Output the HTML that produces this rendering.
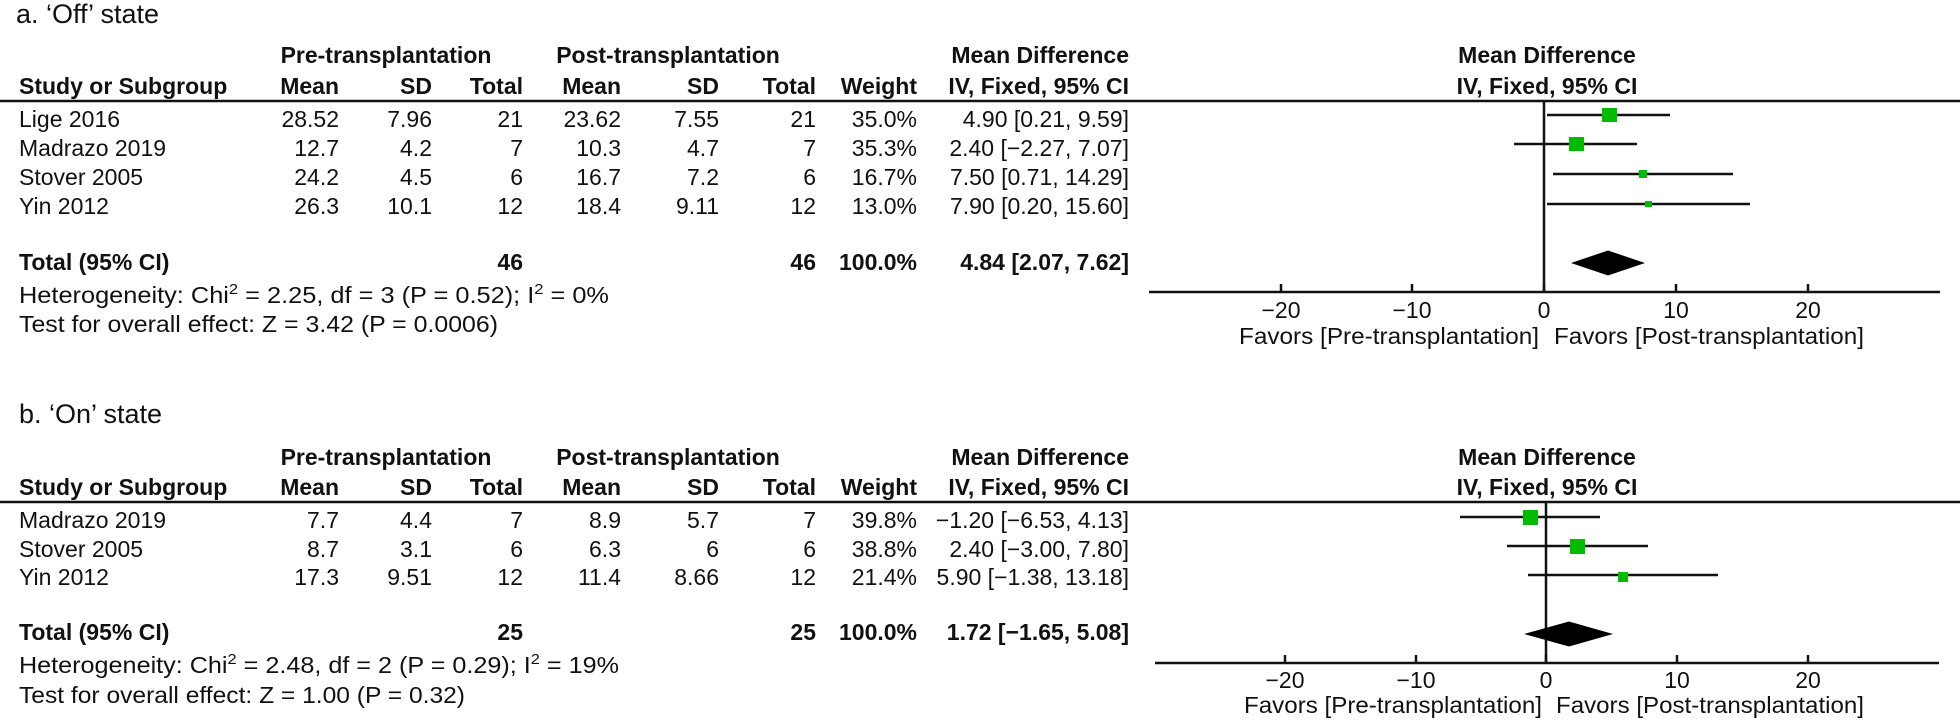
<!DOCTYPE html>
<html><head><meta charset="utf-8"><style>
html,body{margin:0;padding:0;background:#fff;}
svg{display:block;}
text{font-family:"Liberation Sans",sans-serif;font-size:23px;fill:#111;}
.b{font-weight:bold;}
.t{font-size:27px;}
.e{text-anchor:end;}
.m{text-anchor:middle;}
</style></head><body>
<svg width="1960" height="720" viewBox="0 0 1960 720" xmlns="http://www.w3.org/2000/svg">
<!-- Panel a -->
<text x="16" y="23" class="t">a. ‘Off’ state</text>
<text x="386" y="63" class="b m">Pre-transplantation</text>
<text x="668" y="63" class="b m">Post-transplantation</text>
<text x="1129" y="63" class="b e">Mean Difference</text>
<text x="1547" y="63" class="b m">Mean Difference</text>
<text x="19" y="94" class="b">Study or Subgroup</text>
<text x="339" y="94" class="b e">Mean</text>
<text x="432" y="94" class="b e">SD</text>
<text x="523" y="94" class="b e">Total</text>
<text x="621" y="94" class="b e">Mean</text>
<text x="719" y="94" class="b e">SD</text>
<text x="816" y="94" class="b e">Total</text>
<text x="917" y="94" class="b e">Weight</text>
<text x="1129" y="94" class="b e">IV, Fixed, 95% CI</text>
<text x="1547" y="94" class="b m">IV, Fixed, 95% CI</text>
<line x1="0" y1="101" x2="1960" y2="101" stroke="#111" stroke-width="2.5"/>

<g>
<text x="19" y="127">Lige 2016</text><text x="339" y="127" class="e">28.52</text><text x="432" y="127" class="e">7.96</text><text x="523" y="127" class="e">21</text><text x="621" y="127" class="e">23.62</text><text x="719" y="127" class="e">7.55</text><text x="816" y="127" class="e">21</text><text x="917" y="127" class="e">35.0%</text><text x="1129" y="127" class="e">4.90 [0.21, 9.59]</text>
<text x="19" y="156">Madrazo 2019</text><text x="339" y="156" class="e">12.7</text><text x="432" y="156" class="e">4.2</text><text x="523" y="156" class="e">7</text><text x="621" y="156" class="e">10.3</text><text x="719" y="156" class="e">4.7</text><text x="816" y="156" class="e">7</text><text x="917" y="156" class="e">35.3%</text><text x="1129" y="156" class="e">2.40 [−2.27, 7.07]</text>
<text x="19" y="185">Stover 2005</text><text x="339" y="185" class="e">24.2</text><text x="432" y="185" class="e">4.5</text><text x="523" y="185" class="e">6</text><text x="621" y="185" class="e">16.7</text><text x="719" y="185" class="e">7.2</text><text x="816" y="185" class="e">6</text><text x="917" y="185" class="e">16.7%</text><text x="1129" y="185" class="e">7.50 [0.71, 14.29]</text>
<text x="19" y="214">Yin 2012</text><text x="339" y="214" class="e">26.3</text><text x="432" y="214" class="e">10.1</text><text x="523" y="214" class="e">12</text><text x="621" y="214" class="e">18.4</text><text x="719" y="214" class="e">9.11</text><text x="816" y="214" class="e">12</text><text x="917" y="214" class="e">13.0%</text><text x="1129" y="214" class="e">7.90 [0.20, 15.60]</text>
<text x="19" y="270" class="b">Total (95% CI)</text><text x="523" y="270" class="b e">46</text><text x="816" y="270" class="b e">46</text><text x="917" y="270" class="b e">100.0%</text><text x="1129" y="270" class="b e">4.84 [2.07, 7.62]</text>
<text x="19" y="303" textLength="590" lengthAdjust="spacingAndGlyphs">Heterogeneity: Chi<tspan font-size="15" dy="-9">2</tspan><tspan dy="9"> = 2.25, df = 3 (P = 0.52); I</tspan><tspan font-size="15" dy="-9">2</tspan><tspan dy="9"> = 0%</tspan></text>
<text x="19" y="332" textLength="479" lengthAdjust="spacingAndGlyphs">Test for overall effect: Z = 3.42 (P = 0.0006)</text>
</g>

<g stroke="#111" stroke-width="2.5">
<line x1="1544" y1="101" x2="1544" y2="292"/>
<line x1="1547" y1="115" x2="1670" y2="115"/>
<line x1="1514" y1="144" x2="1637" y2="144"/>
<line x1="1553" y1="174" x2="1733" y2="174"/>
<line x1="1547" y1="204" x2="1750" y2="204"/>
<line x1="1149" y1="292" x2="1940" y2="292"/>
<line x1="1281" y1="284" x2="1281" y2="292"/>
<line x1="1412" y1="284" x2="1412" y2="292"/>
<line x1="1544" y1="284" x2="1544" y2="292"/>
<line x1="1676" y1="284" x2="1676" y2="292"/>
<line x1="1808" y1="284" x2="1808" y2="292"/>
</g>
<g fill="#00bb00">
<rect x="1602" y="108" width="15" height="14"/>
<rect x="1569" y="137" width="15" height="14"/>
<rect x="1639" y="170" width="8" height="8"/>
<rect x="1645" y="201" width="7" height="6"/>
</g>
<polygon points="1571,263 1608,250.5 1645,263 1608,275.5" fill="#000"/>
<g>
<text x="1281" y="318" class="m">−20</text><text x="1412" y="318" class="m">−10</text><text x="1544" y="318" class="m">0</text><text x="1676" y="318" class="m">10</text><text x="1808" y="318" class="m">20</text>
<text x="1239" y="344" textLength="300" lengthAdjust="spacingAndGlyphs">Favors [Pre-transplantation]</text>
<text x="1554" y="344" textLength="310" lengthAdjust="spacingAndGlyphs">Favors [Post-transplantation]</text>
</g>

<!-- Panel b -->
<text x="19" y="423" class="t">b. ‘On’ state</text>
<text x="386" y="465" class="b m">Pre-transplantation</text>
<text x="668" y="465" class="b m">Post-transplantation</text>
<text x="1129" y="465" class="b e">Mean Difference</text>
<text x="1547" y="465" class="b m">Mean Difference</text>
<text x="19" y="495" class="b">Study or Subgroup</text>
<text x="339" y="495" class="b e">Mean</text>
<text x="432" y="495" class="b e">SD</text>
<text x="523" y="495" class="b e">Total</text>
<text x="621" y="495" class="b e">Mean</text>
<text x="719" y="495" class="b e">SD</text>
<text x="816" y="495" class="b e">Total</text>
<text x="917" y="495" class="b e">Weight</text>
<text x="1129" y="495" class="b e">IV, Fixed, 95% CI</text>
<text x="1547" y="495" class="b m">IV, Fixed, 95% CI</text>
<line x1="0" y1="502" x2="1960" y2="502" stroke="#111" stroke-width="2.5"/>

<g>
<text x="19" y="528">Madrazo 2019</text><text x="339" y="528" class="e">7.7</text><text x="432" y="528" class="e">4.4</text><text x="523" y="528" class="e">7</text><text x="621" y="528" class="e">8.9</text><text x="719" y="528" class="e">5.7</text><text x="816" y="528" class="e">7</text><text x="917" y="528" class="e">39.8%</text><text x="1129" y="528" class="e">−1.20 [−6.53, 4.13]</text>
<text x="19" y="557">Stover 2005</text><text x="339" y="557" class="e">8.7</text><text x="432" y="557" class="e">3.1</text><text x="523" y="557" class="e">6</text><text x="621" y="557" class="e">6.3</text><text x="719" y="557" class="e">6</text><text x="816" y="557" class="e">6</text><text x="917" y="557" class="e">38.8%</text><text x="1129" y="557" class="e">2.40 [−3.00, 7.80]</text>
<text x="19" y="585">Yin 2012</text><text x="339" y="585" class="e">17.3</text><text x="432" y="585" class="e">9.51</text><text x="523" y="585" class="e">12</text><text x="621" y="585" class="e">11.4</text><text x="719" y="585" class="e">8.66</text><text x="816" y="585" class="e">12</text><text x="917" y="585" class="e">21.4%</text><text x="1129" y="585" class="e">5.90 [−1.38, 13.18]</text>
<text x="19" y="640" class="b">Total (95% CI)</text><text x="523" y="640" class="b e">25</text><text x="816" y="640" class="b e">25</text><text x="917" y="640" class="b e">100.0%</text><text x="1129" y="640" class="b e">1.72 [−1.65, 5.08]</text>
<text x="19" y="673" textLength="600" lengthAdjust="spacingAndGlyphs">Heterogeneity: Chi<tspan font-size="15" dy="-9">2</tspan><tspan dy="9"> = 2.48, df = 2 (P = 0.29); I</tspan><tspan font-size="15" dy="-9">2</tspan><tspan dy="9"> = 19%</tspan></text>
<text x="19" y="703" textLength="446" lengthAdjust="spacingAndGlyphs">Test for overall effect: Z = 1.00 (P = 0.32)</text>
</g>

<g stroke="#111" stroke-width="2.5">
<line x1="1546" y1="502" x2="1546" y2="663"/>
<line x1="1460" y1="517" x2="1600" y2="517"/>
<line x1="1507" y1="546" x2="1648" y2="546"/>
<line x1="1528" y1="575" x2="1718" y2="575"/>
<line x1="1155" y1="663" x2="1939" y2="663"/>
<line x1="1285" y1="655" x2="1285" y2="663"/>
<line x1="1416" y1="655" x2="1416" y2="663"/>
<line x1="1546" y1="655" x2="1546" y2="663"/>
<line x1="1677" y1="655" x2="1677" y2="663"/>
<line x1="1808" y1="655" x2="1808" y2="663"/>
</g>
<g fill="#00bb00">
<rect x="1523" y="510" width="15" height="15"/>
<rect x="1570" y="539" width="15" height="15"/>
<rect x="1618" y="572" width="10" height="10"/>
</g>
<polygon points="1524,634 1569,621.5 1613,634 1569,646.5" fill="#000"/>
<g>
<text x="1285" y="688" class="m">−20</text><text x="1416" y="688" class="m">−10</text><text x="1546" y="688" class="m">0</text><text x="1677" y="688" class="m">10</text><text x="1808" y="688" class="m">20</text>
<text x="1244" y="713" textLength="298" lengthAdjust="spacingAndGlyphs">Favors [Pre-transplantation]</text>
<text x="1556" y="713" textLength="308" lengthAdjust="spacingAndGlyphs">Favors [Post-transplantation]</text>
</g>
</svg>
</body></html>
